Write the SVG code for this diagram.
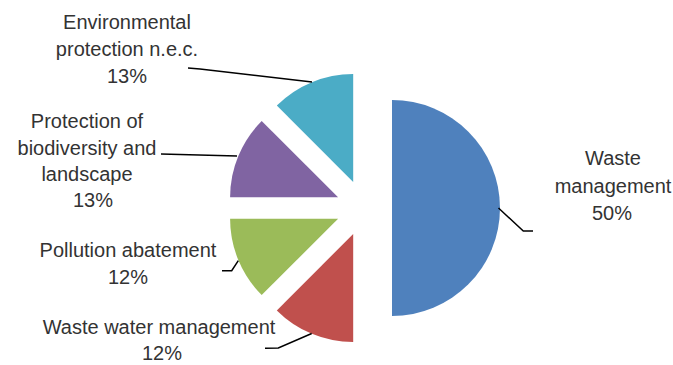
<svg xmlns="http://www.w3.org/2000/svg" width="673" height="365" viewBox="0 0 673 365">
<style>
text{font-family:"Liberation Sans",Arial,sans-serif;font-size:20px;fill:#333;text-anchor:middle}
.lead{fill:none;stroke:#000;stroke-width:1.5}
</style>
<rect width="673" height="365" fill="#fff"/>
<g id="slice-waste-management"><path d="M392,100 A108,108 0 0 1 392,316 Z" fill="#4F81BD"/></g>
<g id="slice-waste-water"><path d="M353.2,234 L353.2,342 A108,108 0 0 1 276.8,310.4 Z" fill="#C0504D"/></g>
<g id="slice-pollution"><path d="M338.1,218.7 L261.7,295.1 A108,108 0 0 1 230.1,218.7 Z" fill="#9BBB59"/></g>
<g id="slice-biodiversity"><path d="M338.1,197.3 L230.1,197.3 A108,108 0 0 1 261.7,121 Z" fill="#8064A2"/></g>
<g id="slice-env"><path d="M353.2,182 L276.8,105.6 A108,108 0 0 1 353.2,74 Z" fill="#4BACC6"/></g>
<g id="connectors">
<polyline class="lead" points="188,68 200,69 312,82"/>
<polyline class="lead" points="161,154 237,156"/>
<polyline class="lead" points="222,270.7 231.7,270.7 238.3,260.7"/>
<polyline class="lead" points="265,348.3 278.3,348 311.7,333.5"/>
<polyline class="lead" points="498.5,208 523.3,231 533,231"/>
</g>
<g id="label-env"><text x="127" y="29">Environmental</text><text x="127" y="56">protection n.e.c.</text><text x="127" y="83">13%</text></g>
<g id="label-biodiversity"><text x="87" y="128">Protection of</text><text x="87" y="155">biodiversity and</text><text x="87" y="181">landscape</text><text x="93" y="207">13%</text></g>
<g id="label-pollution"><text x="128" y="257">Pollution abatement</text><text x="128" y="284">12%</text></g>
<g id="label-waste-water"><text x="159" y="334">Waste water management</text><text x="162" y="360">12%</text></g>
<g id="label-waste-management"><text x="613" y="165">Waste</text><text x="613" y="193">management</text><text x="612" y="220">50%</text></g>
</svg>
